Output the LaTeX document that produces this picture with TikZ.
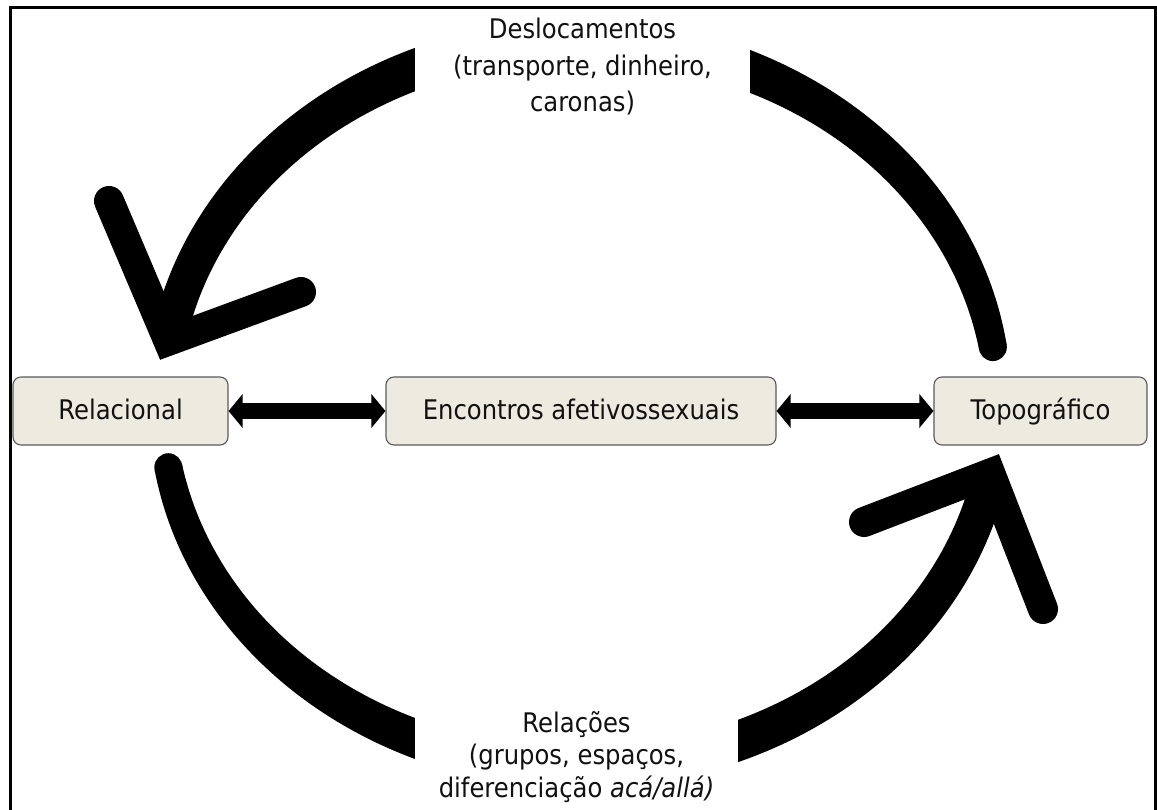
\documentclass[tikz,border=0pt]{standalone}
\usepackage{fontspec}
\setmainfont{DejaVu Sans}[FakeStretch=0.9]
\usetikzlibrary{arrows.meta}
\definecolor{boxfill}{HTML}{EDEBE0}
\definecolor{boxline}{HTML}{5A5A5A}
\definecolor{ink}{HTML}{111111}
\newcommand{\taperarc}[4]{%
  \fill plot[domain=#1:#2, samples=60, variable=\t]
    ({580+(418+(#3+(#4-#3)*(\t-#1)/(#2-#1))/2)*cos(\t)},
     {404+(364+(#3+(#4-#3)*(\t-#1)/(#2-#1))/2)*sin(\t)})
    -- plot[domain=#2:#1, samples=60, variable=\t]
    ({580+(418-(#3+(#4-#3)*(\t-#1)/(#2-#1))/2)*cos(\t)},
     {404+(364-(#3+(#4-#3)*(\t-#1)/(#2-#1))/2)*sin(\t)})
    -- cycle;}
\tikzset{
  box/.style={draw=boxline, fill=boxfill, rounded corners=8pt, line width=1.1pt,
    minimum height=68pt, inner sep=0pt, text height=22pt, text depth=6pt,
    text=ink, font=\fontsize{27}{32}\selectfont},
  lbl/.style={fill=white, inner sep=0pt, align=center, text=ink},
  barb/.style={line width=30pt, line cap=round, line join=miter},
  dbl/.style={line width=16pt, {Triangle[length=14pt,width=33pt]}-{Triangle[length=14pt,width=33pt]}},
}
\begin{document}
\begin{tikzpicture}[x=1pt,y=-1pt]
\useasboundingbox (0,0) rectangle (1157,809);
% big curved arrows
\taperarc{250}{190}{41}{35}
\draw[barb] (109,201) -- ([shift={(580,404)}]190:418 and 364) -- (301,292);
\taperarc{290}{351}{41}{28}
\fill ([shift={(580,404)}]351:418 and 364) circle[radius=14pt];
\taperarc{170}{100}{28}{41}
\fill ([shift={(580,404)}]170:418 and 364) circle[radius=14pt];
\taperarc{80}{11}{41}{35}
\draw[barb] (864,522) -- ([shift={(580,404)}]11:418 and 364) -- (1043,609);
% labels covering arc ends
\node[lbl, minimum width=335pt, minimum height=110pt, font=\fontsize{27}{36.5}\selectfont]
  (dsl) at (582.5,67) {Deslocamentos\\(transporte, dinheiro,\\caronas)};
\node[lbl, minimum width=323pt, minimum height=130pt, font=\fontsize{27}{32.5}\selectfont]
  (rlc) at (576.5,757) {Relações\\(grupos, espaços,\\diferenciação \textit{acá/allá)}};
% frame
\draw[line width=3pt] (10,815) -- (10,7) -- (1155,7) -- (1155,815);
% boxes
\node[box, minimum width=215pt] (rel) at (120.5,411) {Relacional};
\node[box, minimum width=390pt] (enc) at (581,411) {Encontros afetivossexuais};
\node[box, minimum width=213pt] (top) at (1040.5,411) {Topográfico};
\draw[dbl] (rel) -- (enc);
\draw[dbl] (enc) -- (top);
\end{tikzpicture}
\end{document}
